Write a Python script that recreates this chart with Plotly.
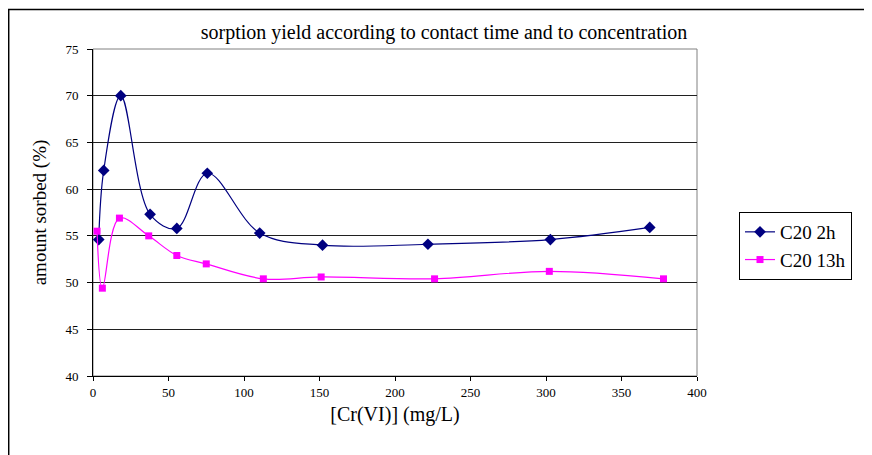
import plotly.graph_objects as go

# Data
x_2h = [3.8, 7.1, 18.4, 37.8, 55.5, 75.7, 110.4, 152.0, 221.8, 302.9, 368.7]
y_2h = [54.6, 62.0, 70.0, 57.3, 55.8, 61.7, 55.3, 54.0, 54.1, 54.6, 55.9]

x_13h = [2.7, 6.2, 17.5, 36.9, 55.5, 75.0, 112.8, 151.1, 226.2, 302.2, 377.8]
y_13h = [55.5, 49.4, 56.9, 55.0, 52.9, 52.0, 50.4, 50.6, 50.4, 51.2, 50.4]

title_text = "sorption yield according to contact time and to concentration"
x_title = "[Cr(VI)] (mg/L)"
y_title = "amount sorbed (%)"

FONT = "Liberation Serif, Times New Roman, serif"

fig = go.Figure()
fig.add_trace(go.Scatter(
    x=x_2h, y=y_2h, name="C20 2h", mode="lines+markers",
    line=dict(color="#000080", width=1.2, shape="spline", smoothing=1.0),
    marker=dict(symbol="diamond", size=9, color="#000080"),
))
fig.add_trace(go.Scatter(
    x=x_13h, y=y_13h, name="C20 13h", mode="lines+markers",
    line=dict(color="#FF00FF", width=1.2, shape="spline", smoothing=1.0),
    marker=dict(symbol="square", size=7, color="#FF00FF"),
))

OFF = 8  # page body margin
W, H = 864, 447
L, R, T, B = 85, 175, 41, 79
pw, ph = W - L - R, H - T - B

def px2paper_x(px):
    return (px - OFF - L) / pw

def px2paper_y(py):
    return (H + OFF - B - py) / ph

fig.update_layout(
    width=W, height=H,
    margin=dict(l=L, r=R, t=T, b=B, pad=0),
    paper_bgcolor="white", plot_bgcolor="white",
    font=dict(family=FONT, color="black"),
    title=dict(text=title_text, x=px2paper_x(444), xref="paper", xanchor="center",
               y=1 - (32 - OFF) / H, yanchor="middle", font=dict(size=20, family=FONT)),
    showlegend=True,
    legend=dict(x=px2paper_x(739), y=px2paper_y(212), xanchor="left", yanchor="top",
                bordercolor="black", borderwidth=1, bgcolor="white",
                font=dict(size=19, family=FONT), tracegroupgap=0),
    xaxis=dict(range=[0, 400], dtick=50, tick0=0, showgrid=False, zeroline=False,
               showline=True, linecolor="black", linewidth=1,
               ticks="outside", ticklen=4, tickcolor="black",
               tickfont=dict(size=13, family=FONT),
               title=dict(text=x_title, font=dict(size=20, family=FONT), standoff=8)),
    yaxis=dict(range=[40, 75], dtick=5, tick0=40, showgrid=True, gridcolor="#202020",
               gridwidth=1, zeroline=False,
               showline=True, linecolor="black", linewidth=1,
               ticks="outside", ticklen=5, tickcolor="black",
               ticklabelstandoff=6,
               tickfont=dict(size=13, family=FONT),
               title=dict(text=y_title, font=dict(size=19, family=FONT), standoff=13)),
    shapes=[
        # plot area border (gray top/right)
        dict(type="rect", xref="paper", yref="paper", x0=0, x1=1, y0=0, y1=1,
             line=dict(color="#808080", width=1), layer="below"),
        # outer chart frame
        dict(type="rect", xref="paper", yref="paper",
             x0=px2paper_x(8.7), x1=px2paper_x(900),
             y0=px2paper_y(480), y1=px2paper_y(9.5),
             line=dict(color="black", width=1.5), layer="below"),
    ],
)

fig.write_html("out.html")
